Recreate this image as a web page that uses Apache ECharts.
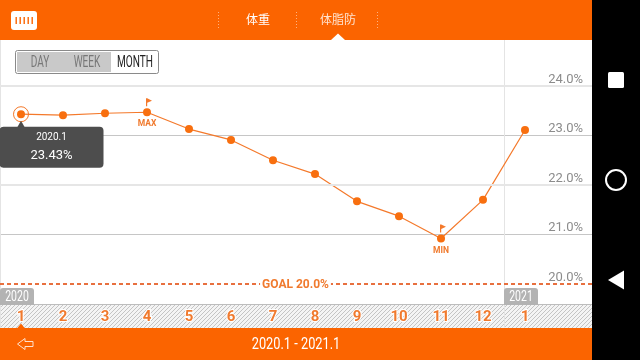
<!DOCTYPE html>
<html><head><meta charset="utf-8">
<style>html,body{margin:0;padding:0;background:#fff}#c{width:640px;height:360px}</style>
<script src="https://cdn.jsdelivr.net/npm/echarts@6/dist/echarts.min.js"></script>
</head><body><div id="c"></div>
<script>
const months=['1','2','3','4','5','6','7','8','9','10','11','12','1','',''];
const fatValues=[23.43,23.41,23.45,23.47,23.13,22.91,22.5,22.22,21.67,21.37,20.92,21.7,23.11];
const yearTags=['2020','2021'];
const rangeButtons=['DAY','WEEK','MONTH'];
const tabs=['体重','体脂防'];
const goalValue=20;
const heavyLines=[22,24];
const selectedIndex=0, maxIndex=3, minIndex=10;
const selectedLabel='2020.1';
const rangeTitle='2020.1 - 2021.1';

const FONT='Roboto,"DejaVu Sans"';
const CJK='"Noto Sans CJK SC"';
const ORANGE='#fb6400', LINE='#f4792b', LABEL='#f07a2e';

const hatch=document.createElement('canvas');hatch.width=4;hatch.height=4;
(function(){const g=hatch.getContext('2d');g.fillStyle='#f4f4f4';g.fillRect(0,0,4,4);
g.strokeStyle='#c4c4c4';g.lineWidth=1;g.beginPath();g.moveTo(-1,1);g.lineTo(1,-1);g.moveTo(0,4);g.lineTo(4,0);g.moveTo(3,5);g.lineTo(5,3);g.stroke();})();

const FLAG='path://M0 0 L0 10 L1.2 10 L1.2 5.6 L6 3 L1.2 0 Z';
const txt=(x,y,s,font,size,fill,sx)=>({type:'text',z:100,x,y,scaleX:sx||1,style:{text:s,font:size+'px '+font,fill,textAlign:'center',textVerticalAlign:'middle'}});
const rect=(x,y,w,h,fill,z,extra)=>({type:'rect',z:z===undefined?90:z,shape:Object.assign({x,y,width:w,height:h},extra&&extra.shape||{}),style:Object.assign({fill},extra&&extra.style||{})});
const dots=(x)=>({type:'line',z:95,shape:{x1:x,y1:12,x2:x,y2:28},style:{stroke:'#ffb27f',lineWidth:1,lineDash:[1,2]}});

const graphics=[
 rect(0,305,592,23,{image:hatch,repeat:'repeat'},-1),
 {type:'line',z:-1,shape:{x1:0,y1:304.5,x2:592,y2:304.5},style:{stroke:'#bdbdbd',lineWidth:1}},
 rect(0,0,640,40,ORANGE),
 rect(0,328,640,32,ORANGE),
 rect(592,0,48,360,'#000',98),
 rect(11,11,26,19,'#fff',95,{shape:{r:3}}),
 ...[16,20,24,28,32].map(x=>rect(x-0.5,17,1.4,7,ORANGE,96)),
 dots(218.5),dots(296.5),dots(377.5),
 txt(258,19.5,tabs[0],CJK,12,'#fff'),
 txt(338,19.5,tabs[1],CJK,12,'#ffe3cf'),
 {type:'polygon',z:96,shape:{points:[[331,40],[338,33.5],[345,40]]},style:{fill:'#fff'}},
 rect(15.5,50.5,143,23,'#fff',5,{shape:{r:2},style:{stroke:'#8a8a8a',lineWidth:1}}),
 rect(17,52,94,20,'#c9c9c9',6),
 txt(40,62.5,rangeButtons[0],FONT,16,'#777',0.63),
 txt(87,62.5,rangeButtons[1],FONT,16,'#777',0.63),
 txt(135,62.5,rangeButtons[2],FONT,16,'#222',0.63),
 rect(0,288,34,17,'#b3b3b3',5,{shape:{r:[3,3,0,0]}}),
 rect(504,288,34,17,'#b3b3b3',5,{shape:{r:[3,3,0,0]}}),
 txt(17,297,yearTags[0],FONT,15,'#fff',0.7),
 txt(521,297,yearTags[1],FONT,15,'#fff',0.7),
 {type:'polygon',z:96,shape:{points:[[17.5,344],[25,338.5],[25,341.5],[33,341.5],[33,346.5],[25,346.5],[25,349.5]]},style:{fill:'none',stroke:'#ffe0cc',lineWidth:1}},
 txt(296,344.5,rangeTitle,FONT,16,'#fff',0.8),
 rect(608,72,16,16,'#fff',99,{shape:{r:1.5}}),
 {type:'circle',z:99,shape:{cx:616,cy:180,r:10},style:{fill:'#000',stroke:'#fff',lineWidth:2}},
 {type:'polygon',z:99,shape:{points:[[608,280],[624,270.5],[624,289.5]]},style:{fill:'#fff'}}
];

const chart=echarts.init(document.getElementById('c'),null,{renderer:'canvas'});
chart.setOption({
 animation:false,
 backgroundColor:'#fff',
 grid:{left:0,top:36.5,width:630,height:297},
 graphic:{elements:graphics},
 xAxis:{type:'category',data:months,boundaryGap:true,
  axisLine:{show:false},axisTick:{show:false},
  axisLabel:{inside:true,margin:9,interval:0,color:LABEL,fontFamily:FONT,fontSize:15,fontWeight:'bold',textBorderColor:'#fff',textBorderWidth:2},
  splitLine:{show:true,interval:(i)=>i===0||i===12,lineStyle:{color:'#e4e4e4',width:1}}},
 yAxis:{type:'value',min:19,max:25,interval:1,position:'right',
  axisLine:{show:false},axisTick:{show:false},
  axisLabel:{inside:true,margin:47,color:'#8c8c8c',fontFamily:FONT,fontSize:13,verticalAlign:'bottom',
   formatter:(v)=>(v<20||v>24)?'':v.toFixed(1)+'%'},
  splitLine:{show:true,lineStyle:{color:['none','none','#c6c6c6','none','#c6c6c6','none','none'],width:1}}},
 series:[
  {type:'line',name:'guides',z:1,data:[],silent:true,
   markLine:{silent:true,symbol:'none',animation:false,
    data:[
     ...heavyLines.map(v=>({yAxis:v,label:{show:false},lineStyle:{color:'#e6e6e6',width:2,type:'solid'}})),
     {yAxis:goalValue,lineStyle:{color:'#e8703f',width:2,type:[4,3]},
      label:{show:true,position:'middle',offset:[-19.5,13],formatter:'GOAL '+goalValue.toFixed(1)+'%',color:LABEL,fontFamily:FONT,fontSize:12,fontWeight:'bold',backgroundColor:'#fff',padding:[1,2]}}
    ]}},
  {type:'line',name:'fat',z:3,
   data:fatValues.map((v,i)=>{
    if(i===maxIndex) return {value:v,label:{show:true,position:'bottom',distance:3,formatter:'MAX',color:LABEL,fontFamily:'Roboto',fontSize:8.5,fontWeight:'bold'}};
    if(i===minIndex) return {value:v,label:{show:true,position:'bottom',distance:4,formatter:'MIN',color:LABEL,fontFamily:'Roboto',fontSize:8.5,fontWeight:'bold'}};
    return v;}),
   symbol:'circle',symbolSize:8,showSymbol:true,
   lineStyle:{color:LINE,width:1.2},itemStyle:{color:'#f86f0f'},
   markPoint:{silent:true,animation:false,data:[
     {coord:[selectedIndex,fatValues[selectedIndex]],symbol:'circle',symbolSize:15,itemStyle:{color:'none',borderColor:LINE,borderWidth:1},label:{show:false}},
     {coord:[maxIndex,fatValues[maxIndex]],symbol:FLAG,symbolSize:[6,8],symbolOffset:[2,-10],itemStyle:{color:LINE},label:{show:false}},
     {coord:[minIndex,fatValues[minIndex]],symbol:FLAG,symbolSize:[6,8],symbolOffset:[2,-10],itemStyle:{color:LINE},label:{show:false}},
     {coord:[selectedIndex,fatValues[selectedIndex]],symbol:'triangle',symbolSize:[8,7],symbolOffset:[0,10],itemStyle:{color:'#4d4d4d'},label:{show:false}},
     {coord:[selectedIndex,fatValues[selectedIndex]],symbol:'circle',symbolSize:1,itemStyle:{color:'none'},
      label:{show:true,position:[-21,13],align:'left',verticalAlign:'top',formatter:'{a|'+selectedLabel+'}\n{b|'+fatValues[selectedIndex].toFixed(2)+'%}',
       backgroundColor:'#4d4d4d',borderRadius:4,width:104,height:41,padding:0,
       rich:{a:{color:'#fff',fontFamily:FONT,fontSize:10,width:104,align:'center',lineHeight:19,padding:[3,0,0,0]},b:{color:'#fff',fontFamily:FONT,fontSize:13,width:104,align:'center',lineHeight:20}}}},
     {coord:[selectedIndex,19.15],symbol:'triangle',symbolSize:[8,5],itemStyle:{color:ORANGE},label:{show:false}}
   ]}}
 ]
});
</script></body></html>
